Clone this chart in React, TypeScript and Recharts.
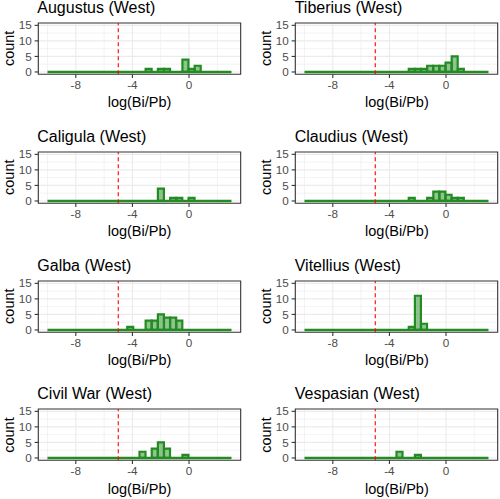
import React from "react";
import {
  ComposedChart,
  Bar,
  XAxis,
  YAxis,
  CartesianGrid,
  ReferenceLine,
  ReferenceArea,
} from "recharts";

// Histogram bin centres (30 bins of width 13/30 from -10 to 3)
const binCenters = [
  -9.783, -9.35, -8.917, -8.483, -8.05, -7.617, -7.183, -6.75, -6.317, -5.883,
  -5.45, -5.017, -4.583, -4.15, -3.717, -3.283, -2.85, -2.417, -1.983, -1.55,
  -1.117, -0.683, -0.25, 0.183, 0.617, 1.05, 1.483, 1.917, 2.35, 2.783,
];
const binRange = [-10, 3];

const xTicks = [-8, -4, 0];
const xMinorTicks = [-10, -6, -2, 2];
const yTicks = [0, 5, 10, 15];
const yMinorTicks = [2.5, 7.5, 12.5];
const thresholdX = -5;
const xDomain: [number, number] = [-10.65, 3.65];
const yDomain: [number, number] = [-0.75, 15.75];

const facetTitles = [
  "Augustus (West)",
  "Tiberius (West)",
  "Caligula (West)",
  "Claudius (West)",
  "Galba (West)",
  "Vitellius (West)",
  "Civil War (West)",
  "Vespasian (West)",
];

const augustusCounts = [0, 0, 0, 0, 0, 0, 0, 0, 0, 0, 0, 0, 0, 0, 0, 0, 1, 0, 1, 1, 0, 0, 4, 1, 2, 0, 0, 0, 0, 0];
const tiberiusCounts = [0, 0, 0, 0, 0, 0, 0, 0, 0, 0, 0, 0, 0, 0, 0, 0, 0, 1, 1, 1, 2, 2, 2, 3, 5, 1, 0, 0, 0, 0];
const caligulaCounts = [0, 0, 0, 0, 0, 0, 0, 0, 0, 0, 0, 0, 0, 0, 0, 0, 0, 0, 4, 0, 1, 1, 0, 1, 0, 0, 0, 0, 0, 0];
const claudiusCounts = [0, 0, 0, 0, 0, 0, 0, 0, 0, 0, 0, 0, 0, 0, 0, 0, 0, 1, 0, 0, 1, 3, 3, 2, 1, 1, 0, 0, 0, 0];
const galbaCounts = [0, 0, 0, 0, 0, 0, 0, 0, 0, 0, 0, 0, 0, 1, 0, 0, 3, 3, 5, 4, 4, 3, 0, 0, 0, 0, 0, 0, 0, 0];
const vitelliusCounts = [0, 0, 0, 0, 0, 0, 0, 0, 0, 0, 0, 0, 0, 0, 0, 0, 0, 1, 11, 2, 0, 0, 0, 0, 0, 0, 0, 0, 0, 0];
const civilWarCounts = [0, 0, 0, 0, 0, 0, 0, 0, 0, 0, 0, 0, 0, 0, 0, 2, 0, 3, 5, 3, 0, 0, 1, 0, 0, 0, 0, 0, 0, 0];
const vespasianCounts = [0, 0, 0, 0, 0, 0, 0, 0, 0, 0, 0, 0, 0, 0, 0, 2, 0, 0, 1, 0, 0, 0, 0, 0, 0, 0, 0, 0, 0, 0];

const facetCounts = [
  augustusCounts,
  tiberiusCounts,
  caligulaCounts,
  claudiusCounts,
  galbaCounts,
  vitelliusCounts,
  civilWarCounts,
  vespasianCounts,
];

const FONT = '"Liberation Sans", Arial, Helvetica, sans-serif';
const GREEN = "#228B22";

const PLOT_W = 202.4;
const PLOT_H = 51.3;
const Y_AXIS_W = 38.3;
const COL_LEFT = [0, 257.4];
const PLOT_TOP0 = 22.7;
const ROW_PITCH = 128.9;
const MARGIN_TOP = 6;
const X_AXIS_H = 22;

const HistBar = (props: any) => {
  const { x, y, width, height } = props;
  if (x == null || y == null || width == null || height == null) return null;
  if (!height) return null;
  const d = `M${x},${y}h${width}v${height}h${-width}Z`;
  return (
    <path
      d={d}
      fill={GREEN}
      fillOpacity={0.5}
      stroke={GREEN}
      strokeWidth={2.2}
      strokeLinejoin="miter"
    />
  );
};

function Facet({ counts, col, row }: { counts: number[]; col: number; row: number }) {
  const data = binCenters.map((x, i) => ({ x, count: counts[i] }));
  const left = COL_LEFT[col];
  const plotTop = PLOT_TOP0 + row * ROW_PITCH;
  const rightMargin = col === 0 ? 6 : 1.5;
  const width = Y_AXIS_W + PLOT_W + rightMargin;
  const height = MARGIN_TOP + PLOT_H + X_AXIS_H;
  return (
    <div style={{ position: "absolute", left, top: plotTop - MARGIN_TOP, width, height }}>
      <ComposedChart
        width={width}
        height={height}
        data={data}
        margin={{ top: MARGIN_TOP, right: rightMargin, bottom: 0, left: 0 }}
        barCategoryGap={0}
        barGap={0}
      >
        <CartesianGrid
          stroke="#EBEBEB"
          strokeWidth={0.6}
          verticalValues={xMinorTicks}
          horizontalValues={yMinorTicks}
        />
        <CartesianGrid
          stroke="#EBEBEB"
          strokeWidth={1.1}
          verticalValues={xTicks}
          horizontalValues={yTicks}
        />
        <XAxis
          type="number"
          dataKey="x"
          domain={xDomain}
          ticks={xTicks}
          interval={0}
          allowDataOverflow
          height={X_AXIS_H}
          axisLine={false}
          tickSize={3.67}
          tickMargin={2.9}
          tickLine={{ stroke: "#333333", strokeWidth: 1.1 }}
          tick={{ fill: "#4D4D4D", fontSize: 11.7, fontFamily: FONT }}
        />
        <YAxis
          type="number"
          domain={yDomain}
          ticks={yTicks}
          interval={0}
          allowDataOverflow
          width={Y_AXIS_W}
          axisLine={false}
          tickSize={3.67}
          tickMargin={2.9}
          tickLine={{ stroke: "#333333", strokeWidth: 1.1 }}
          tick={{ fill: "#4D4D4D", fontSize: 11.7, fontFamily: FONT }}
        />
        <Bar dataKey="count" isAnimationActive={false} shape={HistBar} />
        <ReferenceLine
          segment={[
            { x: binRange[0], y: 0 },
            { x: binRange[1], y: 0 },
          ]}
          stroke={GREEN}
          strokeWidth={2.6}
          ifOverflow="visible"
        />
        <ReferenceLine
          x={thresholdX}
          stroke="#FF0000"
          strokeDasharray="4 3"
          strokeWidth={1.1}
        />
        <ReferenceArea
          x1={xDomain[0]}
          x2={xDomain[1]}
          y1={yDomain[0]}
          y2={yDomain[1]}
          ifOverflow="visible"
          fill="none"
          fillOpacity={0}
          stroke="#333333"
          strokeWidth={1.1}
        />
      </ComposedChart>
    </div>
  );
}

export default function App() {
  return (
    <div
      style={{
        position: "absolute",
        left: 0,
        top: 0,
        width: 500,
        height: 499,
        background: "#FFFFFF",
        overflow: "hidden",
      }}
    >
      {facetTitles.map((title, i) => (
        <Facet key={title} counts={facetCounts[i]} col={i % 2} row={Math.floor(i / 2)} />
      ))}
      <svg
        width={500}
        height={499}
        style={{ position: "absolute", left: 0, top: 0, pointerEvents: "none" }}
      >
        {facetTitles.map((title, i) => {
          const col = i % 2;
          const row = Math.floor(i / 2);
          const plotLeft = COL_LEFT[col] + Y_AXIS_W;
          const plotTop = PLOT_TOP0 + row * ROW_PITCH;
          const cx = plotLeft + PLOT_W / 2;
          const cy = plotTop + PLOT_H / 2;
          const countX = COL_LEFT[col] + 14;
          return (
            <g key={title}>
              <text x={plotLeft - 1} y={plotTop - 10} fontSize={16} fontFamily={FONT} fill="#000000">
                {title}
              </text>
              <text
                x={cx}
                y={plotTop + PLOT_H + 33}
                fontSize={14.5}
                fontFamily={FONT}
                fill="#000000"
                textAnchor="middle"
              >
                log(Bi/Pb)
              </text>
              <text
                x={countX}
                y={cy}
                fontSize={14.5}
                fontFamily={FONT}
                fill="#000000"
                textAnchor="middle"
                transform={`rotate(-90 ${countX} ${cy})`}
              >
                count
              </text>
            </g>
          );
        })}
      </svg>
    </div>
  );
}
